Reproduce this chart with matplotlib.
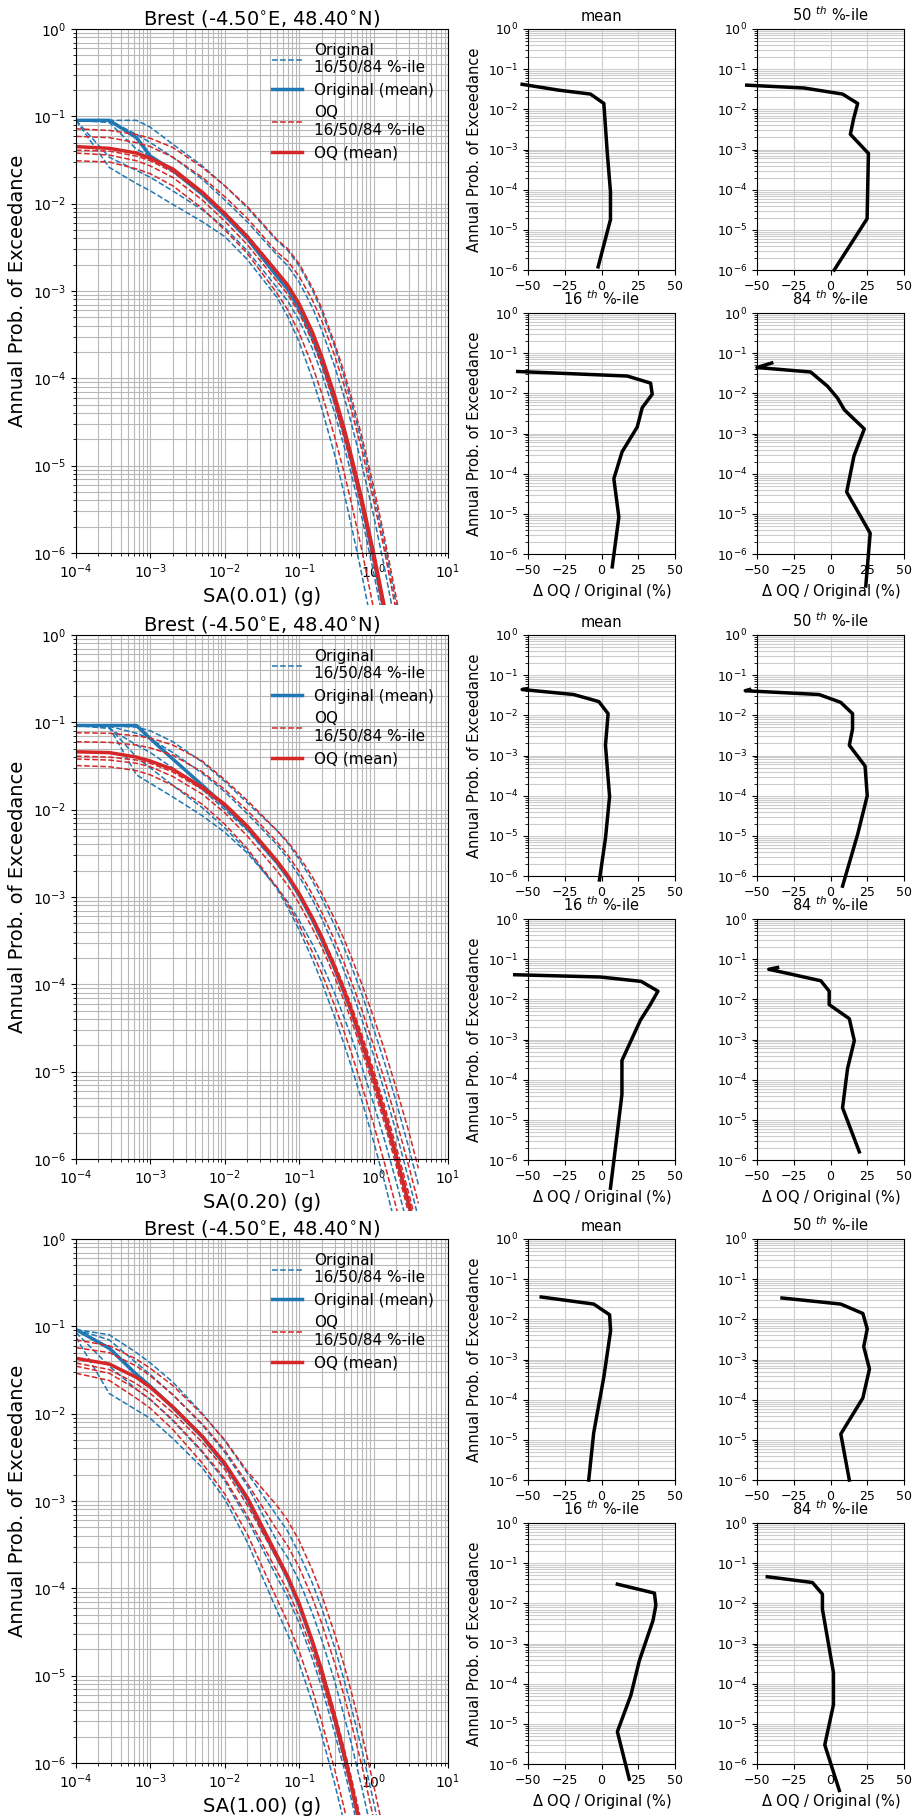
import matplotlib
matplotlib.use("Agg")
import matplotlib.pyplot as plt
from matplotlib.patches import Rectangle

BLUE = "#1f77b4"
RED = "#d62728"

# intensity levels (g) shared by all hazard curves
IML = [1e-4, 2.8e-4, 6.5e-4, 1e-3, 2e-3, 5e-3, 1e-2, 2e-2, 5e-2, 0.07,
       0.1, 0.15, 0.2, 0.3, 0.4, 0.5, 0.7, 1.0, 1.4, 2.0, 3.0, 4.0]

# ---- SA(0.01) ----
SA001_ORIG_MEAN = [0.09, 0.09, 0.057, 0.035, 0.024, 0.0128, 0.0073, 0.0040, 1.48e-3, 1.05e-3,
                   6.3e-4, 3.0e-4, 1.6e-4, 5.6e-5, 2.4e-5, 1.17e-5, 3.6e-6, 8.9e-7, 2.1e-7, 4e-8, 5e-9, 1e-9]
SA001_ORIG_Q = [
    [0.09, 0.09, 0.09, 0.075, 0.048, 0.027, 0.016, 0.009, 3.8e-3, 2.93e-3,
     1.94e-3, 1.03e-3, 5.9e-4, 2.3e-4, 1.05e-4, 5.4e-5, 1.8e-5, 4.9e-6, 1.27e-6, 2.7e-7, 3.8e-8, 8.4e-9],
    [0.09, 0.09, 0.062, 0.05, 0.034, 0.019, 0.011, 0.0062, 2.6e-3, 1.95e-3,
     1.26e-3, 6.5e-4, 3.6e-4, 1.37e-4, 6.2e-5, 3.1e-5, 1.0e-5, 2.7e-6, 6.8e-7, 1.4e-7, 1.9e-8, 4.2e-9],
    [0.09, 0.085, 0.042, 0.035, 0.024, 0.0135, 0.008, 0.0044, 1.7e-3, 1.18e-3,
     7.0e-4, 3.2e-4, 1.7e-4, 5.8e-5, 2.45e-5, 1.17e-5, 3.5e-6, 8.6e-7, 2.0e-7, 3.7e-8, 4.6e-9, 9.5e-10],
    [0.09, 0.034, 0.024, 0.02, 0.014, 0.0085, 0.0053, 0.0029, 1.1e-3, 7.7e-4,
     4.6e-4, 2.2e-4, 1.14e-4, 4.0e-5, 1.68e-5, 8.1e-6, 2.5e-6, 6.0e-7, 1.4e-7, 2.7e-8, 3.4e-9, 7e-10],
    [0.09, 0.026, 0.017, 0.014, 0.0098, 0.0062, 0.0042, 0.0023, 8.5e-4, 5.1e-4,
     2.6e-4, 1.0e-4, 4.6e-5, 1.33e-5, 4.9e-6, 2.1e-6, 5.5e-7, 1.15e-7, 2.3e-8, 3.7e-9, 3.8e-10, 6.9e-11],
]
SA001_OQ_MEAN = [0.045, 0.043, 0.038, 0.033, 0.025, 0.0135, 0.0077, 0.0042, 1.66e-3, 1.17e-3,
                 7.1e-4, 3.4e-4, 1.8e-4, 6.3e-5, 2.7e-5, 1.3e-5, 4.0e-6, 1.0e-6, 2.4e-7, 4.5e-8, 5.8e-9, 1.2e-9]
SA001_OQ_Q = [
    [0.072, 0.069, 0.062, 0.056, 0.044, 0.026, 0.016, 0.0093, 3.9e-3, 3.05e-3,
     2.05e-3, 1.1e-3, 6.4e-4, 2.5e-4, 1.19e-4, 6.2e-5, 2.1e-5, 5.8e-6, 1.5e-6, 3.2e-7, 4.6e-8, 1.05e-8],
    [0.059, 0.057, 0.05, 0.045, 0.034, 0.02, 0.012, 0.0068, 2.8e-3, 2.2e-3,
     1.47e-3, 7.9e-4, 4.6e-4, 1.81e-4, 8.4e-5, 4.4e-5, 1.47e-5, 4.0e-6, 1.06e-6, 2.2e-7, 3.2e-8, 7.3e-9],
    [0.041, 0.04, 0.035, 0.031, 0.023, 0.013, 0.0076, 0.0042, 1.6e-3, 1.13e-3,
     6.9e-4, 3.3e-4, 1.8e-4, 6.4e-5, 2.75e-5, 1.35e-5, 4.2e-6, 1.04e-6, 2.5e-7, 4.8e-8, 6.2e-9, 1.3e-9],
    [0.038, 0.036, 0.031, 0.027, 0.02, 0.011, 0.0063, 0.0034, 1.3e-3, 9.2e-4,
     5.6e-4, 2.65e-4, 1.41e-4, 5.0e-5, 2.1e-5, 1.03e-5, 3.2e-6, 7.8e-7, 1.86e-7, 3.5e-8, 4.5e-9, 9.4e-10],
    [0.031, 0.03, 0.025, 0.022, 0.016, 0.0088, 0.005, 0.0027, 9.5e-4, 6.1e-4,
     3.3e-4, 1.4e-4, 6.8e-5, 2.13e-5, 8.4e-6, 3.8e-6, 1.05e-6, 2.3e-7, 5e-8, 8.6e-9, 9.7e-10, 1.9e-10],
]

# ---- SA(0.20) ----
SA020_ORIG_MEAN = [0.092, 0.092, 0.092, 0.065, 0.038, 0.019, 0.011, 0.0062, 2.5e-3, 1.7e-3,
                   1.05e-3, 5.5e-4, 3.3e-4, 1.51e-4, 8.1e-5, 4.9e-5, 2.1e-5, 8.3e-6, 3.2e-6, 1.08e-6, 2.9e-7, 1.07e-7]
SA020_ORIG_Q = [
    [0.092, 0.092, 0.088, 0.08, 0.06, 0.035, 0.021, 0.012, 5.8e-3, 4.16e-3,
     2.7e-3, 1.54e-3, 9.7e-4, 4.7e-4, 2.65e-4, 1.64e-4, 7.6e-5, 3.1e-5, 1.28e-5, 4.6e-6, 1.3e-6, 5.1e-7],
    [0.092, 0.09, 0.075, 0.065, 0.045, 0.026, 0.016, 0.009, 4.0e-3, 2.76e-3,
     1.73e-3, 9.4e-4, 5.7e-4, 2.64e-4, 1.44e-4, 8.7e-5, 3.9e-5, 1.54e-5, 6.0e-6, 2.07e-6, 5.6e-7, 2.1e-7],
    [0.092, 0.085, 0.055, 0.045, 0.03, 0.017, 0.01, 0.0058, 2.4e-3, 1.64e-3,
     1.02e-3, 5.5e-4, 3.3e-4, 1.52e-4, 8.2e-5, 5.0e-5, 2.2e-5, 8.6e-6, 3.3e-6, 1.14e-6, 3.1e-7, 1.15e-7],
    [0.092, 0.088, 0.025, 0.02, 0.014, 0.0085, 0.0055, 0.0032, 1.3e-3, 8.8e-4,
     5.4e-4, 2.9e-4, 1.74e-4, 7.9e-5, 4.2e-5, 2.5e-5, 1.11e-5, 4.3e-6, 1.66e-6, 5.6e-7, 1.5e-7, 5.6e-8],
    [0.092, 0.088, 0.04, 0.03, 0.019, 0.0105, 0.0062, 0.0034, 1.25e-3, 7.6e-4,
     4.2e-4, 1.95e-4, 1.07e-4, 4.2e-5, 2.08e-5, 1.16e-5, 4.6e-6, 1.58e-6, 5.5e-7, 1.64e-7, 3.9e-8, 1.3e-8],
]
SA020_OQ_MEAN = [0.046, 0.045, 0.040, 0.036, 0.029, 0.018, 0.0115, 0.0065, 2.6e-3, 1.77e-3,
                 1.09e-3, 5.8e-4, 3.5e-4, 1.57e-4, 8.5e-5, 5.1e-5, 2.2e-5, 8.6e-6, 3.3e-6, 1.12e-6, 3.0e-7, 1.1e-7]
SA020_OQ_Q = [
    [0.076, 0.075, 0.07, 0.066, 0.055, 0.036, 0.022, 0.0128, 5.8e-3, 4.3e-3,
     2.9e-3, 1.71e-3, 1.11e-3, 5.6e-4, 3.3e-4, 2.07e-4, 9.9e-5, 4.2e-5, 1.78e-5, 6.6e-6, 2.0e-6, 7.8e-7],
    [0.06, 0.059, 0.055, 0.051, 0.042, 0.027, 0.017, 0.0098, 4.3e-3, 3.03e-3,
     1.95e-3, 1.08e-3, 6.7e-4, 3.2e-4, 1.78e-4, 1.09e-4, 5.0e-5, 2.0e-5, 8.1e-6, 2.85e-6, 8.0e-7, 3.1e-7],
    [0.041, 0.04, 0.037, 0.034, 0.027, 0.017, 0.011, 0.0062, 2.5e-3, 1.74e-3,
     1.1e-3, 6.0e-4, 3.7e-4, 1.73e-4, 9.5e-5, 5.8e-5, 2.6e-5, 1.04e-5, 4.1e-6, 1.42e-6, 3.9e-7, 1.48e-7],
    [0.038, 0.037, 0.034, 0.031, 0.024, 0.015, 0.0092, 0.005, 2.0e-3, 1.36e-3,
     8.4e-4, 4.4e-4, 2.7e-4, 1.21e-4, 6.5e-5, 3.9e-5, 1.71e-5, 6.7e-6, 2.56e-6, 8.6e-7, 2.3e-7, 8.5e-8],
    [0.032, 0.031, 0.028, 0.025, 0.019, 0.0115, 0.0068, 0.0036, 1.3e-3, 8.3e-4,
     4.8e-4, 2.35e-4, 1.35e-4, 5.7e-5, 2.9e-5, 1.66e-5, 6.8e-6, 2.5e-6, 9.0e-7, 2.85e-7, 7.1e-8, 2.5e-8],
]

# ---- SA(1.00) ----
SA100_ORIG_MEAN = [0.092, 0.056, 0.028, 0.0205, 0.0118, 0.0054, 0.0026, 0.00105, 2.3e-4, 1.31e-4,
                   6.4e-5, 2.4e-5, 1.11e-5, 3.2e-6, 1.23e-6, 5.5e-7, 1.49e-7, 3.3e-8, 7.2e-9, 1.2e-9, 1.5e-10, 3e-11]
SA100_ORIG_Q = [
    [0.092, 0.08, 0.05, 0.038, 0.023, 0.0100, 0.0049, 0.0021, 6.8e-4, 4.5e-4,
     2.5e-4, 1.15e-4, 6.0e-5, 2.1e-5, 9.0e-6, 4.4e-6, 1.39e-6, 3.6e-7, 9.1e-8, 1.9e-8, 2.7e-9, 6.2e-10],
    [0.092, 0.07, 0.038, 0.028, 0.0165, 0.0074, 0.0036, 0.0015, 3.5e-4, 2.24e-4,
     1.21e-4, 5.2e-5, 2.6e-5, 8.6e-6, 3.5e-6, 1.69e-6, 5.1e-7, 1.26e-7, 3.0e-8, 6e-9, 8e-10, 1.8e-10],
    [0.092, 0.058, 0.029, 0.021, 0.012, 0.0054, 0.0026, 0.00105, 2.35e-4, 1.34e-4,
     6.5e-5, 2.5e-5, 1.14e-5, 3.3e-6, 1.26e-6, 5.6e-7, 1.52e-7, 3.4e-8, 7.4e-9, 1.3e-9, 1.6e-10, 3.1e-11],
    [0.085, 0.035, 0.019, 0.0145, 0.0083, 0.0036, 0.0017, 6.2e-4, 1.35e-4, 7.9e-5,
     4.0e-5, 1.57e-5, 7.4e-6, 2.2e-6, 8.7e-7, 3.9e-7, 1.1e-7, 2.5e-8, 5.7e-9, 1.0e-9, 1.3e-10, 2.6e-11],
    [0.075, 0.017, 0.011, 0.0088, 0.0052, 0.0024, 1.05e-3, 3.4e-4, 5.6e-5, 3.0e-5,
     1.38e-5, 4.9e-6, 2.1e-6, 5.8e-7, 2.1e-7, 8.9e-8, 2.3e-8, 4.2e-9, 8e-10, 1.4e-10, 1.5e-11, 3e-12],
]
SA100_OQ_MEAN = [0.043, 0.037, 0.026, 0.020, 0.012, 0.0055, 0.0027, 0.0011, 2.4e-4, 1.37e-4,
                 6.7e-5, 2.5e-5, 1.16e-5, 3.4e-6, 1.29e-6, 5.7e-7, 1.56e-7, 3.5e-8, 7.6e-9, 1.3e-9, 1.6e-10, 3.2e-11]
SA100_OQ_Q = [
    [0.070, 0.060, 0.042, 0.033, 0.021, 0.0098, 0.005, 0.0022, 8.9e-4, 6.0e-4,
     3.5e-4, 1.62e-4, 8.5e-5, 3.0e-5, 1.33e-5, 6.6e-6, 2.1e-6, 5.6e-7, 1.45e-7, 3.0e-8, 4.4e-9, 1.0e-9],
    [0.057, 0.05, 0.035, 0.027, 0.0165, 0.0076, 0.0038, 0.0016, 4.7e-4, 3.06e-4,
     1.73e-4, 7.8e-5, 4.0e-5, 1.39e-5, 5.9e-6, 2.9e-6, 9.1e-7, 2.3e-7, 5.9e-8, 1.2e-8, 1.7e-9, 3.8e-10],
    [0.038, 0.032, 0.022, 0.017, 0.0103, 0.0047, 0.0023, 9e-4, 2.2e-4, 1.3e-4,
     6.6e-5, 2.6e-5, 1.25e-5, 3.8e-6, 1.5e-6, 6.9e-7, 1.95e-7, 4.5e-8, 1.0e-8, 1.9e-9, 2.4e-10, 5e-11],
    [0.035, 0.029, 0.019, 0.0145, 0.0085, 0.0037, 0.0018, 6.8e-4, 1.58e-4, 9.4e-5,
     4.8e-5, 1.91e-5, 9.1e-6, 2.8e-6, 1.09e-6, 5.0e-7, 1.42e-7, 3.3e-8, 7.5e-9, 1.4e-9, 1.7e-10, 3.6e-11],
    [0.029, 0.024, 0.015, 0.0115, 0.0066, 0.0027, 1.2e-3, 4.2e-4, 7.6e-5, 4.1e-5,
     1.91e-5, 6.9e-6, 3.0e-6, 8.4e-7, 3.1e-7, 1.32e-7, 3.4e-8, 7.3e-9, 1.4e-9, 2.3e-10, 2.6e-11, 5e-12],
]

# ---- relative difference OQ vs Original (%), against annual PoE ----
D001_MEAN_PCT = [-54, -29, -7.5, 1.6, 3.9, 6.1, 6.1, -2.3]
D001_MEAN_POE = [0.042, 0.030, 0.024, 0.014, 8.5e-4, 9e-5, 1.8e-5, 1.2e-6]
D001_P50_PCT = [-57, -18, 8.2, 18.5, 15.8, 13.5, 25.8, 24.9, 2.5]
D001_P50_POE = [0.040, 0.034, 0.024, 0.014, 0.006, 0.0024, 8e-4, 1.9e-5, 1e-6]
D001_P16_PCT = [-57, 17.5, 33.4, 34.5, 27.7, 24.3, 14, 8.4, 11.8, 7.3]
D001_P16_POE = [0.035, 0.027, 0.018, 0.0095, 0.0044, 1.45e-3, 3.5e-4, 7.5e-5, 8.3e-6, 4.8e-7]
D001_P84_PCT = [-40, -50, -13.5, -2, 4.8, 9.4, 23, 16, 11, 27, 24]
D001_P84_POE = [0.057, 0.044, 0.034, 0.015, 0.0076, 0.0039, 1.3e-3, 2.8e-4, 3.5e-5, 3.3e-6, 1.6e-7]

D020_MEAN_PCT = [-51, -54, -19, -1.8, 4.5, 2.7, 5.5, 2.7, -1.4]
D020_MEAN_POE = [0.046, 0.044, 0.033, 0.022, 0.011, 1.8e-3, 9.5e-5, 8.7e-6, 8e-7]
D020_P50_PCT = [-55, -58, -7.8, 7, 15, 15, 12.8, 23.5, 25, 18.5, 8.2]
D020_P50_POE = [0.044, 0.041, 0.033, 0.021, 0.011, 0.0046, 1.8e-3, 5.5e-4, 1e-4, 1.1e-5, 5.6e-7]
D020_P16_PCT = [-59, -0.7, 27, 38.4, 33.2, 26.4, 13.9, 13.9, 11.1, 6.1]
D020_P16_POE = [0.041, 0.036, 0.028, 0.016, 0.0074, 0.003, 3e-4, 4.3e-5, 6.1e-6, 2e-7]
D020_P84_PCT = [-36, -42, -30, -6.6, -0.9, -0.9, 12.8, 16.2, 11.6, 8.2, 19.6]
D020_P84_POE = [0.062, 0.056, 0.045, 0.029, 0.016, 0.0074, 3.3e-3, 9.4e-4, 1.9e-4, 2e-5, 1.6e-6]

D100_MEAN_PCT = [-41, -5.3, 5.5, 6.2, 1.6, -5.3, -8.7]
D100_MEAN_POE = [0.036, 0.024, 0.013, 0.0052, 3.7e-4, 1.5e-5, 1e-6]
D100_P50_PCT = [-33, 7, 22, 25, 22.6, 26.5, 22, 7, 12.8]
D100_P50_POE = [0.034, 0.024, 0.014, 0.0058, 0.0021, 5.8e-4, 1.1e-4, 1.4e-5, 1e-6]
D100_P16_PCT = [10.8, 36, 37, 35, 25.7, 20, 10.8, 18.9]
D100_P16_POE = [0.030, 0.018, 0.009, 0.0037, 3.7e-4, 5.2e-5, 6.4e-6, 4.2e-7]
D100_P84_PCT = [-43, -12.3, -5.5, -5.5, 2, 2, -3.9, 6]
D100_P84_POE = [0.046, 0.033, 0.017, 0.0072, 1.9e-4, 3e-5, 3e-6, 2.2e-7]

TITLE = "Brest (-4.50$^{\\circ}$E, 48.40$^{\\circ}$N)"
YLABEL = "Annual Prob. of Exceedance"
DLABEL = "$\\Delta$ OQ / Original (%)"

W, H = 913, 1820
ROW_TOP = [29, 635, 1239]
ROW_H = 524


def rect(left, top, width, height):
    return [left / W, 1 - (top + height) / H, width / W, height / H]


def hazard_panel(ax, orig_mean, orig_q, oq_mean, oq_q, xlabel):
    # curves run a little past the bottom spine, like the original
    clip = Rectangle((0, -0.1), 1, 1.1, transform=ax.transAxes)
    lines = []
    for i, q in enumerate(orig_q):
        lines += ax.loglog(IML, q, "--", color=BLUE, lw=1.1,
                           label="Original\n16/50/84 %-ile" if i == 0 else None)
    lines += ax.loglog(IML, orig_mean, "-", color=BLUE, lw=2.5, label="Original (mean)")
    for i, q in enumerate(oq_q):
        lines += ax.loglog(IML, q, "--", color=RED, lw=1.1,
                           label="OQ\n16/50/84 %-ile" if i == 0 else None)
    lines += ax.loglog(IML, oq_mean, "-", color=RED, lw=2.5, label="OQ (mean)")
    for ln in lines:
        ln.set_clip_path(clip)
    ax.set_xlim(1e-4, 10)
    ax.set_ylim(1e-6, 1)
    ax.grid(which="both", color="0.72", lw=0.8)
    ax.set_title(TITLE, fontsize=14, pad=3)
    ax.set_xlabel(xlabel, fontsize=14)
    ax.set_ylabel(YLABEL, fontsize=14)
    ax.tick_params(labelsize=10)
    ax.legend(loc="upper right", frameon=False, fontsize=11)


def diff_panel(ax, pct, poe, title, left_col, bottom_row):
    ax.semilogy(pct, poe, color="k", lw=2.5, clip_on=False)
    ax.set_xlim(-50, 50)
    ax.set_ylim(1e-6, 1)
    ax.set_xticks([-50, -25, 0, 25, 50])
    ax.grid(axis="x", which="major", color="0.8", lw=0.8)
    ax.grid(axis="y", which="both", color="0.8", lw=0.8)
    ax.set_title(title, fontsize=10.5)
    ax.tick_params(labelsize=9)
    if left_col:
        ax.set_ylabel(YLABEL, fontsize=10.5)
    if bottom_row:
        ax.set_xlabel(DLABEL, fontsize=10.5)


rows = [
    ("SA(0.01) (g)", SA001_ORIG_MEAN, SA001_ORIG_Q, SA001_OQ_MEAN, SA001_OQ_Q,
     [(D001_MEAN_PCT, D001_MEAN_POE), (D001_P50_PCT, D001_P50_POE),
      (D001_P16_PCT, D001_P16_POE), (D001_P84_PCT, D001_P84_POE)]),
    ("SA(0.20) (g)", SA020_ORIG_MEAN, SA020_ORIG_Q, SA020_OQ_MEAN, SA020_OQ_Q,
     [(D020_MEAN_PCT, D020_MEAN_POE), (D020_P50_PCT, D020_P50_POE),
      (D020_P16_PCT, D020_P16_POE), (D020_P84_PCT, D020_P84_POE)]),
    ("SA(1.00) (g)", SA100_ORIG_MEAN, SA100_ORIG_Q, SA100_OQ_MEAN, SA100_OQ_Q,
     [(D100_MEAN_PCT, D100_MEAN_POE), (D100_P50_PCT, D100_P50_POE),
      (D100_P16_PCT, D100_P16_POE), (D100_P84_PCT, D100_P84_POE)]),
]
small_titles = ["mean", "50 $^{th}$ %-ile", "16 $^{th}$ %-ile", "84 $^{th}$ %-ile"]

fig = plt.figure(figsize=(W / 100, H / 100), dpi=100)
small_h = 0.46 * ROW_H
small_lower = 0.542 * ROW_H
for r, (xlabel, om, oq_, qm, qq, diffs) in enumerate(rows):
    top = ROW_TOP[r]
    ax = fig.add_axes(rect(76, top, 372, ROW_H))
    hazard_panel(ax, om, oq_, qm, qq, xlabel)
    for k, (pct, poe) in enumerate(diffs):
        col, sub = k % 2, k // 2
        left = 528 if col == 0 else 757
        stop = top if sub == 0 else top + small_lower
        sax = fig.add_axes(rect(left, stop, 147, small_h))
        diff_panel(sax, pct, poe, small_titles[k], col == 0, sub == 1)

fig.savefig("out.png", dpi=100)
